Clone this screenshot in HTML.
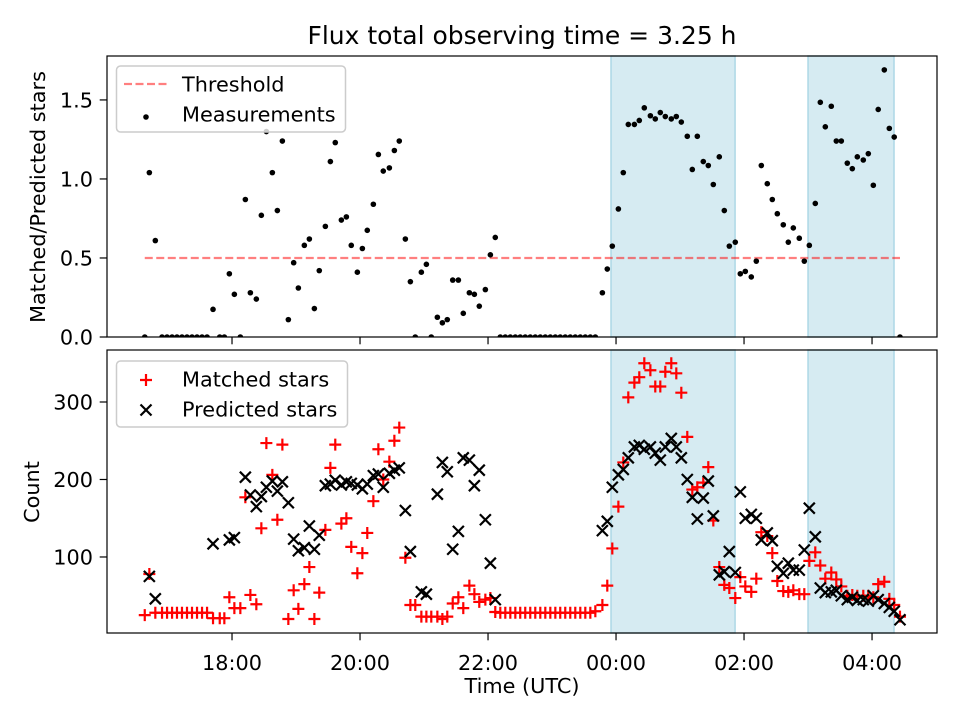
<!DOCTYPE html>
<html><head><meta charset="utf-8"><title>Flux observing time</title>
<style>
html,body{margin:0;padding:0;background:#fff;}
svg{display:block;font-family:"DejaVu Sans","Liberation Sans",sans-serif;}
</style></head>
<body>
<svg id="chart" width="960" height="720" viewBox="0 0 960 720" xmlns="http://www.w3.org/2000/svg"></svg>
<script>
// time in minutes after 16:00 UTC
const times = [38.2,42.5,48.1,
54.4,59.1,63.8,68.4,73.1,77.8,82.5,87.2,91.9,96.6,
102.2,108.5,112.8,117.5,122.2,127.8,132.5,137.2,142.8,147.5,152.2,157.8,162.5,167.2,172.8,177.8,182.2,187.8,192.5,197.2,201.8,
207.5,212.2,216.8,222.5,227.2,231.8,237.5,242.2,246.8,252.5,257.2,261.8,267.5,272.2,276.8,282.5,287.2,291.8,297.5,302.2,306.8,
312.5,317.2,321.8,326.9,332.2,336.8,342.5,347.2,351.8,357.5,362.2,366.8,
371.5,376.2,380.9,385.6,390.2,394.9,399.6,404.3,409.0,413.7,418.4,423.1,427.7,432.4,437.1,441.8,446.5,451.2,455.9,460.6,
467.2,471.8,476.5,482.2,486.8,491.5,497.2,501.8,506.5,512.2,516.8,521.5,526.2,531.8,536.5,541.2,546.8,551.5,556.2,561.8,566.5,571.2,576.8,581.5,586.2,591.8,596.5,
601.2,606.8,611.5,616.2,621.8,626.5,631.2,636.8,641.5,646.2,651.8,656.5,661.2,666.8,671.5,676.2,681.8,686.5,691.2,696.8,701.5,706.2,711.8,716.5,721.2,725.8,731.5,736.2,740.8,746.2];
const ratio = [0,1.04,0.61,
0,0,0,0,0,0,0,0,0,0,
0.175,0,0,0.40,0.27,0,0.87,0.28,0.24,0.77,1.30,1.04,0.80,1.24,0.11,0.47,0.31,0.58,0.62,0.18,0.42,
0.70,1.11,1.23,0.74,0.76,0.58,0.41,0.56,0.675,0.84,1.155,1.05,1.07,1.18,1.24,0.62,0.35,0,0.41,0.46,0,
0.125,0.09,0.11,0.36,0.36,0.15,0.28,0.27,0.195,0.30,0.52,0.63,
0,0,0,0,0,0,0,0,0,0,0,0,0,0,0,0,0,0,0,0,
0.28,0.43,0.575,0.81,1.04,1.345,1.345,1.37,1.45,1.40,1.38,1.42,1.395,1.38,1.395,1.36,1.27,1.06,1.27,1.11,1.085,0.965,1.14,0.80,0.575,0.60,0.40,
0.415,0.38,0.48,1.085,0.97,0.87,0.78,0.71,0.60,0.69,0.625,0.48,0.58,0.845,1.485,1.33,1.46,1.24,1.24,1.10,1.065,1.14,1.12,1.16,0.96,1.44,1.69,1.32,1.265,0];
const matched = [25,78,28,
28,28,28,28,28,28,28,28,28,28,
21,21,21,48,34,34,177,51,39,137,247,206,148,245,20,57,33,65,87,20,54,
135,215,245,143,150,113,79,105,131,172,239,200,223,250,267,99,38,38,23,23,23,
23,20,23,40,48,34,63,52,42,45,47,29,
28,28,28,28,28,28,28,28,28,28,28,28,28,28,28,28,28,28,28,30,
38,63,111,165,222,306,325,332,350,341,320,320,339,350,337,312,255,187,190,196,216,147,87,64,60,47,74,
62,55,72,132,127,105,69,56,55,57,52,52,95,106,89,72,80,71,62,50,51,50,50,50,48,65,68,46,38,23];
const predicted = [null,75,46,
null,null,null,null,null,null,null,null,null,null,
117,null,null,122,125,null,203,180,165,178,190,198,185,197,170,123,108,112,140,110,128,
192,194,199,193,197,195,193,188,194,205,207,190,208,212,215,160,107,null,55,52,null,
181,222,210,110,133,228,225,192,212,148,92,45,
null,null,null,null,null,null,null,null,null,null,null,null,null,null,null,null,null,null,null,null,
134,146,190,206,213,228,242,244,239,242,234,225,242,253,242,228,200,177,149,176,198,153,77,81,107,80,184,
150,155,150,122,131,121,88,79,92,83,83,109,163,126,60,54,55,57,50,45,48,44,45,43,50,45,40,35,30,19];
const xTickVals = [120,240,360,480,600,720];
const xTickLabels = ["18:00","20:00","22:00","00:00","02:00","04:00"];
const topTicks = [0,0.5,1.0,1.5];
const topTickLabels = ["0.0","0.5","1.0","1.5"];
const botTicks = [100,200,300];
const botTickLabels = ["100","200","300"];
const shaded = [[475.3,591.6],[660.0,740.6]];
const threshold = 0.5;

const NS="http://www.w3.org/2000/svg";
const svg=document.getElementById('chart');
function mk(tag,attrs,parent){const e=document.createElementNS(NS,tag);for(const k in attrs)e.setAttribute(k,attrs[k]);(parent||svg).appendChild(e);return e;}
const FS='font-size:20.8px';
const L=107,R=937;
const X0=2.8,X1=780.9;
const sx=v=>L+(v-X0)/(X1-X0)*(R-L);
const T={top:56,bot:337,min:0,max:1.778};
const B={top:350,bot:633,min:1.9,max:367.1};
const syT=v=>T.bot-(v-T.min)/(T.max-T.min)*(T.bot-T.top);
const syB=v=>B.bot-(v-B.min)/(B.max-B.min)*(B.bot-B.top);

// title
let t=mk('text',{x:522,y:44,'text-anchor':'middle',style:'font-size:25px'});t.textContent='Flux total observing time = 3.25 h';



function panel(P,sy,name){
  const g=mk('g',{});
  
  
  shaded.forEach(s=>{const r=mk('rect',{x:sx(s[0]),y:P.top,width:sx(s[1])-sx(s[0]),height:P.bot-P.top,fill:'#add8e6','fill-opacity':0.5,stroke:'#add8e6','stroke-width':1.5},g);
    
    });
  return g;
}
// top panel
const gT=panel(T,syT,'ratio-panel');
const th=mk('line',{x1:sx(times[0]),x2:sx(times[times.length-1]),y1:syT(threshold),y2:syT(threshold),stroke:'#ff0000','stroke-opacity':0.5,'stroke-width':2.2,'stroke-dasharray':'8,3.5'},gT);


const clipT=mk('clipPath',{id:'ct'});mk('rect',{x:L,y:T.top,width:R-L,height:T.bot-T.top},clipT);
const dots=mk('g',{'clip-path':'url(#ct)'},gT);
times.forEach((tm,i)=>{const c=mk('circle',{cx:sx(tm),cy:syT(ratio[i]),r:2.8,fill:'#000'},dots);
  
  });
// bottom panel
const gB=panel(B,syB,'count-panel');
const plus=(x,y,p,col)=>{mk('path',{d:`M${x-6},${y}H${x+6}M${x},${y-6}V${y+6}`,stroke:col,'stroke-width':2.2,fill:'none'},p);};
const cross=(x,y,p,col)=>{mk('path',{d:`M${x-5.5},${y-5.5}L${x+5.5},${y+5.5}M${x-5.5},${y+5.5}L${x+5.5},${y-5.5}`,stroke:col,'stroke-width':2.2,fill:'none'},p);};
const mg=mk('g',{},gB);


times.forEach((tm,i)=>{if(matched[i]!=null)plus(sx(tm),syB(matched[i]),mg,'#ff0000');});
const pg=mk('g',{},gB);


times.forEach((tm,i)=>{if(predicted[i]!=null)cross(sx(tm),syB(predicted[i]),pg,'#000');});

// axes frames + ticks
[[T,syT,topTicks,topTickLabels,'top'],[B,syB,botTicks,botTickLabels,'bottom']].forEach(([P,sy,tk,tl,nm])=>{
  const f=mk('rect',{x:L,y:P.top,width:R-L,height:P.bot-P.top,fill:'none',stroke:'#000','stroke-width':1.2});
  
  
  tk.forEach((v,i)=>{const y=sy(v);mk('line',{x1:L-7.3,x2:L,y1:y,y2:y,stroke:'#000','stroke-width':1.2});
    const e=mk('text',{x:L-14,y:y+7.5,'text-anchor':'end',style:FS});e.textContent=tl[i];
    
    });
  xTickVals.forEach((v,i)=>{const x=sx(v);mk('line',{x1:x,x2:x,y1:P.bot,y2:P.bot+7.3,stroke:'#000','stroke-width':1.2});
    if(nm==='bottom'){const e=mk('text',{x:x,y:P.bot+37,'text-anchor':'middle',style:FS});e.textContent=xTickLabels[i];
      
      }});
});
let yl=mk('text',{x:0,y:0,'text-anchor':'middle',style:FS,transform:'translate(45,197) rotate(-90)'});yl.textContent='Matched/Predicted stars';


yl=mk('text',{x:0,y:0,'text-anchor':'middle',style:FS,transform:'translate(39,492) rotate(-90)'});yl.textContent='Count';


yl=mk('text',{x:522,y:693,'text-anchor':'middle',style:FS});yl.textContent='Time (UTC)';



// legends
function legend(y0,w,name,entries){
  const g=mk('g',{});
  
  
  mk('rect',{x:116.5,y:y0,width:w,height:66,rx:4,fill:'#fff','fill-opacity':0.8,stroke:'#ccc','stroke-width':1.5},g);
  entries.forEach((e,i)=>{const y=y0+18+i*30;e.draw(g,y);
    const tx=mk('text',{x:182,y:y+7.5,style:FS},g);tx.textContent=e.label;
    
    });
}
legend(66,229,'top-legend',[
 {label:'Threshold',draw:(g,y)=>mk('line',{x1:124,x2:170,y1:y,y2:y,stroke:'#ff0000','stroke-opacity':0.5,'stroke-width':2.2,'stroke-dasharray':'8,3.5'},g)},
 {label:'Measurements',draw:(g,y)=>mk('circle',{cx:146,cy:y+3,r:2.8,fill:'#000'},g)}]);
legend(361,231,'bottom-legend',[
 {label:'Matched stars',draw:(g,y)=>plus(146,y+1,g,'#ff0000')},
 {label:'Predicted stars',draw:(g,y)=>cross(146,y+1,g,'#000')}]);
</script>
</body></html>
